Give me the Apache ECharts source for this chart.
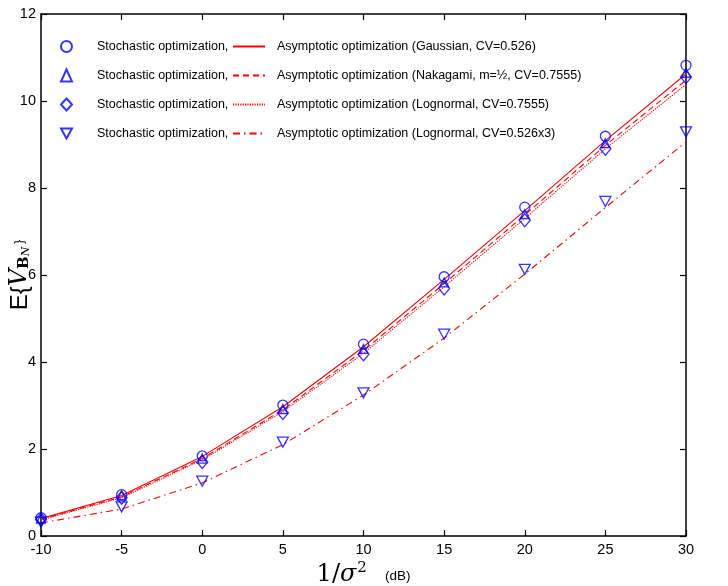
<!DOCTYPE html>
<html>
<head>
<meta charset="utf-8">
<script src="https://cdn.jsdelivr.net/npm/echarts@6/dist/echarts.min.js"></script>
<style>html,body{margin:0;padding:0;background:#fff}#c{width:728px;height:586px}</style>
</head>
<body>
<div id="c"></div>
<script>
var xValues = [-10, -5, 0, 5, 10, 15, 20, 25, 30];
var xTicks = [-10, -5, 0, 5, 10, 15, 20, 25, 30];
var yTicks = [0, 2, 4, 6, 8, 10, 12];

// Stochastic optimization (markers)
var stochGaussian = [0.42, 0.95, 1.84, 3.01, 4.41, 5.96, 7.56, 9.19, 10.82];
var stochNakagami = [0.40, 0.93, 1.78, 2.92, 4.30, 5.83, 7.40, 9.03, 10.65];
var stochLognormal = [0.38, 0.88, 1.70, 2.83, 4.18, 5.69, 7.26, 8.90, 10.55];
var stochLognormal3 = [0.32, 0.67, 1.26, 2.16, 3.29, 4.64, 6.13, 7.69, 9.29];

// Asymptotic optimization (lines)
var asymGaussian = [0.40, 0.93, 1.83, 2.97, 4.35, 5.90, 7.48, 9.09, 10.62];
var asymNakagami = [0.38, 0.90, 1.78, 2.90, 4.26, 5.80, 7.38, 8.98, 10.48];
var asymLognormal = [0.37, 0.88, 1.75, 2.86, 4.20, 5.73, 7.30, 8.90, 10.38];
var asymLognormal3 = [0.30, 0.62, 1.22, 2.10, 3.24, 4.55, 6.02, 7.55, 9.06];

var stochLabel = 'Stochastic optimization,';
var asymLabels = [
  'Asymptotic optimization (Gaussian, CV=0.526)',
  'Asymptotic optimization (Nakagami, m=\u00bd, CV=0.7555)',
  'Asymptotic optimization (Lognormal, CV=0.7555)',
  'Asymptotic optimization (Lognormal, CV=0.526x3)'
];

function pairs(ys){ return xValues.map(function(x,i){ return [x, ys[i]]; }); }

var blue = '#0000ff';
var red = '#ff0000';
var FONT = 'Liberation Sans';
var downTri = 'path://M0,0 L10,0 L5,9 Z';

var markerSeries = [
  {name:'S1', data:stochGaussian, symbol:'circle', size:10},
  {name:'S2', data:stochNakagami, symbol:'triangle', size:9},
  {name:'S3', data:stochLognormal, symbol:'diamond', size:[11,13]},
  {name:'S4', data:stochLognormal3, symbol:downTri, size:[11,10]}
].map(function(s){
  return {
    type:'scatter', name:s.name, data:pairs(s.data), symbol:s.symbol, symbolSize:s.size,
    itemStyle:{color:'rgba(255,255,255,0)', borderColor:blue, borderWidth:1.3},
    z:5
  };
});

var lineDefs = [
  {name:'A1', data:asymGaussian, type:'solid'},
  {name:'A2', data:asymNakagami, type:[6,4]},
  {name:'A3', data:asymLognormal, type:[1.2,1.2]},
  {name:'A4', data:asymLognormal3, type:[7,4,1.5,4]}
];
var lineSeries = lineDefs.map(function(s){
  return {
    type:'line', name:s.name, data:pairs(s.data), showSymbol:false, symbol:'none',
    lineStyle:{color:red, width:1.1, type:s.type}, itemStyle:{color:red},
    z:3
  };
});

var nameMap = {S1:stochLabel,S2:stochLabel,S3:stochLabel,S4:stochLabel,
  A1:asymLabels[0],A2:asymLabels[1],A3:asymLabels[2],A4:asymLabels[3]};

var chart = echarts.init(document.getElementById('c'), null, {renderer:'canvas'});
var axisLine = {show:true, onZero:false, lineStyle:{color:'#000', width:1.5}};
var legendText = {fontFamily:FONT, fontSize:12.5, color:'#000', lineHeight:15};
var option = {
  animation:false,
  backgroundColor:'#fff',
  grid:{left:41, right:42, top:14, bottom:50, containLabel:false, outerBoundsMode:'none'},
  legend:[
    {data:['S1','S2','S3','S4'], orient:'vertical', left:60, top:39, padding:0, itemGap:14, itemWidth:11, itemHeight:12,
     formatter:function(n){return nameMap[n];}, textStyle:Object.assign({padding:[0,0,0,20]}, legendText)},
    {data:['A1','A2','A3','A4'], orient:'vertical', left:232, top:39, padding:0, itemGap:14, itemWidth:32, itemHeight:12,
     itemStyle:{opacity:0},
     formatter:function(n){return nameMap[n];}, textStyle:Object.assign({padding:[0,0,0,7]}, legendText)}
  ],
  xAxis:[
    {type:'value', min:-10, max:30, interval:5, position:'bottom',
     axisLine:axisLine, axisTick:{show:true, inside:true, length:6, lineStyle:{color:'#000', width:1.2}},
     splitLine:{show:false},
     axisLabel:{color:'#000', fontFamily:FONT, fontSize:14.5, margin:6,
       formatter:function(v){return xTicks.indexOf(v)>=0 ? String(v) : '';}},
     name:'{a|1/}{b|\u03c3}{sup|2}{c|(dB)}', nameLocation:'middle', nameGap:25, nameMoveOverlap:false,
     nameTextStyle:{rich:{
       a:{fontFamily:'DejaVu Serif', fontSize:24, color:'#000'},
       b:{fontFamily:'DejaVu Serif', fontStyle:'italic', fontSize:24, color:'#000'},
       sup:{fontFamily:'DejaVu Serif', fontSize:15, color:'#000', verticalAlign:'top', padding:[0,18,12,1]},
       c:{fontFamily:FONT, fontSize:13.5, color:'#000', padding:[4,0,0,0]}
     }}
    },
    {type:'value', min:-10, max:30, interval:5, position:'top',
     axisLine:axisLine, axisTick:{show:true, inside:true, length:6, lineStyle:{color:'#000', width:1.2}},
     axisLabel:{show:false}, splitLine:{show:false}}
  ],
  yAxis:[
    {type:'value', min:0, max:12, interval:2, position:'left',
     axisLine:axisLine, axisTick:{show:true, inside:true, length:6, lineStyle:{color:'#000', width:1.2}},
     splitLine:{show:false},
     axisLabel:{color:'#000', fontFamily:FONT, fontSize:14.5, margin:5,
       formatter:function(v){return yTicks.indexOf(v)>=0 ? String(v) : '';}},
     name:'{e|E\u007b}{v|V}{s|B}{n|N}{e|\u007d}', nameLocation:'middle', nameGap:9, nameRotate:90, nameMoveOverlap:false,
     nameTextStyle:{fontFamily:FONT, rich:{
       e:{fontFamily:FONT, fontSize:24, color:'#000'},
       v:{fontFamily:'DejaVu Serif', fontStyle:'italic', fontSize:24, color:'#000'},
       s:{fontFamily:'DejaVu Serif', fontWeight:'bold', fontSize:15, color:'#000', verticalAlign:'bottom', padding:[9,0,0,0]},
       n:{fontFamily:'DejaVu Serif', fontStyle:'italic', fontSize:11, color:'#000', verticalAlign:'bottom', padding:[13,3,0,0]}
     }}
    },
    {type:'value', min:0, max:12, interval:2, position:'right',
     axisLine:axisLine, axisTick:{show:true, inside:true, length:6, lineStyle:{color:'#000', width:1.2}},
     axisLabel:{show:false}, splitLine:{show:false}}
  ],
  series: lineSeries.concat(markerSeries)
};
chart.setOption(option);
</script>
</body>
</html>
